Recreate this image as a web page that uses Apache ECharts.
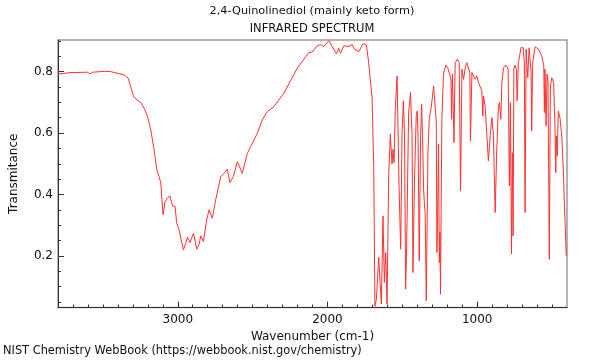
<!DOCTYPE html>
<html>
<head>
<meta charset="utf-8">
<script src="https://cdn.jsdelivr.net/npm/echarts@6/dist/echarts.min.js"></script>
<style>html,body{margin:0;padding:0;background:#fff}#c{width:600px;height:360px}</style>
</head>
<body>
<div id="c"></div>
<script>
const titleLine1 = '2,4-Quinolinediol (mainly keto form)';
const titleLine2 = 'INFRARED SPECTRUM';
const xName = 'Wavenumber (cm-1)';
const yName = 'Transmitance';
const footer = 'NIST Chemistry WebBook (https://webbook.nist.gov/chemistry)';

const xMajorTicks = [1000, 2000, 3000];
const yMajorTicks = [0.2, 0.4, 0.6, 0.8];

const wavenumber = [
3800,3713,3602,3587,3569,3491,3447,3358,3331,3295,3280,3247,3225,3202,3180,3158,3140,3125,3113,3107,
3098,3085,3069,3053,3042,3035,3018,3007,2991,2980,2962,2947,2935,2918,2895,2873,2858,2847,2829,2807,
2791,2769,2747,2713,2691,2669,2651,2629,2602,2569,2535,2513,2469,2435,2402,2358,2291,2202,2125,2102,
2069,2047,2025,1991,1969,1958,1940,1925,1913,1891,1858,1835,1820,1807,1791,1762,1740,1725,1702,1691,
1683,1673,1658,1651,1640,1629,1620,1611,1602,1591,1580,1569,1562,1555,1547,1535,1522,1511,1502,1493,
1485,1478,1471,1458,1445,1435,1429,1418,1407,1400,1395,1387,1378,1371,1365,1358,1353,1347,1340,1329,
1320,1307,1291,1280,1273,1269,1265,1258,1253,1249,1245,1236,1225,1209,1195,1185,1175,1171,1165,1155,
1147,1133,1120,1111,1102,1091,1080,1069,1058,1049,1045,1035,1025,1013,1002,991,980,969,962,958,
947,935,925,913,902,891,880,869,858,851,842,835,824,807,793,785,778,771,765,760,
755,747,738,733,725,707,693,685,680,673,667,662,653,647,640,636,629,613,591,569,
555,551,547,540,533,527,518,511,502,489,480,475,471,465,458,447,435,425,413,405
];
const transmittance = [
0.792,0.797,0.798,0.793,0.798,0.801,0.800,0.789,0.778,0.719,0.711,0.699,0.681,0.654,0.610,0.545,0.480,0.458,0.437,0.393,
0.334,0.377,0.388,0.396,0.393,0.363,0.361,0.306,0.285,0.258,0.220,0.241,0.261,0.243,0.274,0.222,0.236,0.265,0.247,0.317,
0.350,0.323,0.382,0.458,0.469,0.482,0.439,0.458,0.507,0.469,0.534,0.556,0.599,0.643,0.670,0.686,0.730,0.811,0.862,0.864,
0.884,0.888,0.882,0.901,0.882,0.887,0.858,0.876,0.860,0.884,0.882,0.888,0.873,0.879,0.865,0.891,0.887,0.830,0.715,0.490,
0.036,0.059,0.195,0.135,0.043,0.330,0.113,0.211,0.043,0.460,0.596,0.499,0.547,0.504,0.678,0.786,0.428,0.222,0.591,0.705,
0.591,0.092,0.233,0.667,0.732,0.591,0.146,0.460,0.656,0.672,0.591,0.184,0.591,0.694,0.591,0.417,0.374,0.336,0.054,0.536,
0.645,0.683,0.753,0.759,0.634,0.211,0.308,0.564,0.178,0.276,0.075,0.645,0.792,0.821,0.810,0.813,0.775,0.645,0.792,0.569,
0.829,0.840,0.829,0.412,0.808,0.775,0.813,0.829,0.824,0.797,0.574,0.797,0.802,0.775,0.786,0.764,0.770,0.737,0.656,0.721,
0.688,0.591,0.509,0.591,0.650,0.591,0.341,0.547,0.688,0.699,0.645,0.764,0.813,0.821,0.808,0.428,0.699,0.207,0.536,0.265,
0.808,0.821,0.808,0.705,0.829,0.878,0.878,0.829,0.341,0.873,0.873,0.780,0.878,0.878,0.797,0.607,0.829,0.881,0.873,0.851,
0.819,0.667,0.808,0.623,0.792,0.764,0.189,0.753,0.780,0.764,0.612,0.471,0.591,0.526,0.672,0.650,0.591,0.482,0.308,0.200
];

const xMin = 400, xMax = 3800, yMin = 0.032, yMax = 0.903;
const xMinorTicks = [];
for (let v = 500; v <= 3700; v += 100) if (v % 1000 !== 0) xMinorTicks.push(v);
const yMinorTicks = [];
for (let i = 1; i <= 18; i++) { const v = Math.round(i * 5) / 100; if (i % 4 !== 0) yMinorTicks.push(v); }

const points = wavenumber.map((w, i) => [w, transmittance[i]]);
const FONT = 'DejaVu Sans';
const chart = echarts.init(document.getElementById('c'), null, {renderer: 'canvas'});
const gridL = 57, gridT = 40, gridW = 510, gridH = 267.5;

chart.setOption({
  animation: false,
  textStyle: {fontFamily: FONT},
  grid: {left: gridL, top: gridT, width: gridW, height: gridH, show: true, borderColor: '#9a9a9a', borderWidth: 1.5, containLabel: false},
  xAxis: [
    {type: 'value', min: xMin, max: xMax, inverse: true, position: 'bottom',
     name: xName, nameLocation: 'middle', nameGap: 19, nameTextStyle: {fontSize: 12, color: '#111', fontFamily: FONT},
     axisLine: {show: true, onZero: false, lineStyle: {color: '#333', width: 1}},
     axisTick: {show: true, inside: true, length: 6, customValues: xMajorTicks, lineStyle: {color: '#333'}},
     axisLabel: {show: true, customValues: xMajorTicks, margin: 6, fontSize: 12, color: '#111', fontFamily: FONT, formatter: v => String(v)},
     splitLine: {show: false}},
    {type: 'value', min: xMin, max: xMax, inverse: true, position: 'bottom',
     axisLine: {show: false, onZero: false},
     axisTick: {show: true, inside: true, length: 3, customValues: xMinorTicks, lineStyle: {color: '#333'}},
     axisLabel: {show: false}, splitLine: {show: false}}
  ],
  yAxis: [
    {type: 'value', min: yMin, max: yMax, position: 'left',
     name: yName, nameLocation: 'middle', nameGap: 38, nameTextStyle: {fontSize: 12, color: '#111', fontFamily: FONT},
     axisLine: {show: true, onZero: false, lineStyle: {color: '#333', width: 1}},
     axisTick: {show: true, inside: true, length: 6, customValues: yMajorTicks, lineStyle: {color: '#333'}},
     axisLabel: {show: true, customValues: yMajorTicks, margin: 5, fontSize: 12, color: '#111', fontFamily: FONT, formatter: v => v.toFixed(1)},
     splitLine: {show: false}},
    {type: 'value', min: yMin, max: yMax, position: 'left', offset: 0,
     axisLine: {show: false, onZero: false},
     axisTick: {show: true, inside: true, length: 3, customValues: yMinorTicks, lineStyle: {color: '#333'}},
     axisLabel: {show: false}, splitLine: {show: false}}
  ],
  series: [{
    type: 'line', xAxisIndex: 0, yAxisIndex: 0, data: points, showSymbol: false, smooth: false,
    lineStyle: {color: '#ff3030', width: 1}, clip: true
  }],
  graphic: [
    {type: 'text', x: 312, y: 6, style: {text: titleLine1, textAlign: 'center', font: '11.3px "DejaVu Sans"', fill: '#111'}},
    {type: 'text', x: 312, y: 23, style: {text: titleLine2, textAlign: 'center', font: '11.5px "DejaVu Sans"', fill: '#111'}},
    {type: 'text', x: 3, y: 346, style: {text: footer, textAlign: 'left', font: '11.4px "DejaVu Sans"', fill: '#111'}}
  ]
});
</script>
</body>
</html>
